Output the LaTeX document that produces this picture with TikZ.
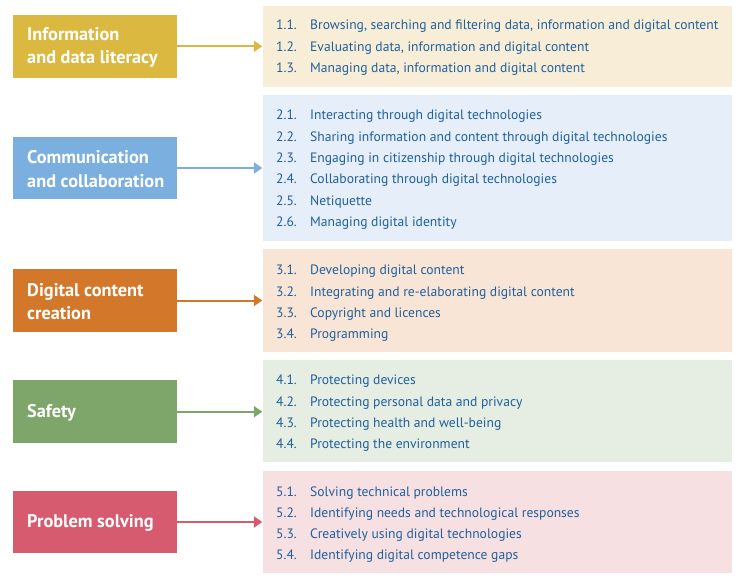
\documentclass[tikz,border=0pt]{standalone}
\usepackage{fontspec}
\setmainfont{PT Sans}
\usetikzlibrary{arrows.meta}
\definecolor{cA}{RGB}{219,184,64}
\definecolor{cB}{RGB}{122,175,223}
\definecolor{cC}{RGB}{211,120,42}
\definecolor{cD}{RGB}{126,166,106}
\definecolor{cE}{RGB}{214,91,110}
\definecolor{bA}{RGB}{248,238,216}
\definecolor{bB}{RGB}{229,238,249}
\definecolor{bC}{RGB}{249,229,214}
\definecolor{bD}{RGB}{230,237,226}
\definecolor{bE}{RGB}{246,224,226}
\definecolor{itemblue}{RGB}{31,96,156}
\newcommand{\itm}[2]{\makebox[34pt][l]{#1}#2}
\begin{document}
\begin{tikzpicture}[x=1pt,y=-1pt,
  catbox/.style={draw=none, minimum width=164pt, minimum height=62.7pt, inner sep=0pt},
  cattext/.style={anchor=west, align=left, text=white, inner sep=0pt,
    font=\fontsize{18.3}{23.3}\selectfont\bfseries},
  listbox/.style={draw=none, minimum width=469pt, inner sep=0pt},
  item/.style={anchor=base west, inner sep=0pt, text=itemblue, font=\fontsize{13.6}{15}\selectfont},
  conn/.style={line width=2pt, -{Triangle[length=8.5pt,width=11pt]}}]
\useasboundingbox (0,0) rectangle (741,585);
\fill[white] (0,0) rectangle (741,585);
% left category boxes
\node[catbox, fill=cA] (L1) at (95,46.3) {};
\node[catbox, fill=cB] (L2) at (95,168) {};
\node[catbox, fill=cC] (L3) at (95,300.5) {};
\node[catbox, fill=cD] (L4) at (95,411.7) {};
\node[catbox, fill=cE] (L5) at (95,522) {};
\node[cattext] (T1) at (27,47.3) {Information\\and data literacy};
\node[cattext] (T2) at (27,169) {Communication\\and collaboration};
\node[cattext] (T3) at (27,301.5) {Digital content\\creation};
\node[cattext] (T4) at (27,412.7) {Safety};
\node[cattext] (T5) at (27,523) {Problem solving};
% right list boxes
\node[listbox, fill=bA, minimum height=80.7pt] (R1) at (497,46.3) {};
\node[listbox, fill=bB, minimum height=145.7pt] (R2) at (497,167.85) {};
\node[listbox, fill=bC, minimum height=102.2pt] (R3) at (497,300.6) {};
\node[listbox, fill=bD, minimum height=102pt] (R4) at (497,411) {};
\node[listbox, fill=bE, minimum height=102pt] (R5) at (497,522) {};
% connectors
\draw[conn, cA] (L1.east) -- (R1.west |- L1.east);
\draw[conn, cB] (L2.east) -- (R2.west |- L2.east);
\draw[conn, cC] (L3.east) -- (R3.west |- L3.east);
\draw[conn, cD] (L4.east) -- (R4.west |- L4.east);
\draw[conn, cE] (L5.east) -- (R5.west |- L5.east);
% items
\node[item] (i11) at (276,29.9) {\itm{1.1.}{Browsing, searching and filtering data, information and digital content}};
\node[item] (i12) at (276,51.3) {\itm{1.2.}{Evaluating data, information and digital content}};
\node[item] (i13) at (276,72.9) {\itm{1.3.}{Managing data, information and digital content}};
\node[item] (i21) at (276,119.6) {\itm{2.1.}{Interacting through digital technologies}};
\node[item] (i22) at (276,141.1) {\itm{2.2.}{Sharing information and content through digital technologies}};
\node[item] (i23) at (276,162.5) {\itm{2.3.}{Engaging in citizenship through digital technologies}};
\node[item] (i24) at (276,184) {\itm{2.4.}{Collaborating through digital technologies}};
\node[item] (i25) at (276,205.4) {\itm{2.5.}{Netiquette}};
\node[item] (i26) at (276,226.8) {\itm{2.6.}{Managing digital identity}};
\node[item] (i31) at (276,274.6) {\itm{3.1.}{Developing digital content}};
\node[item] (i32) at (276,296) {\itm{3.2.}{Integrating and re-elaborating digital content}};
\node[item] (i33) at (276,317.2) {\itm{3.3.}{Copyright and licences}};
\node[item] (i34) at (276,338.3) {\itm{3.4.}{Programming}};
\node[item] (i41) at (276,384.6) {\itm{4.1.}{Protecting devices}};
\node[item] (i42) at (276,406) {\itm{4.2.}{Protecting personal data and privacy}};
\node[item] (i43) at (276,427.4) {\itm{4.3.}{Protecting health and well-being}};
\node[item] (i44) at (276,448.9) {\itm{4.4.}{Protecting the environment}};
\node[item] (i51) at (276,496) {\itm{5.1.}{Solving technical problems}};
\node[item] (i52) at (276,517) {\itm{5.2.}{Identifying needs and technological responses}};
\node[item] (i53) at (276,538.6) {\itm{5.3.}{Creatively using digital technologies}};
\node[item] (i54) at (276,559.6) {\itm{5.4.}{Identifying digital competence gaps}};
\end{tikzpicture}
\end{document}
